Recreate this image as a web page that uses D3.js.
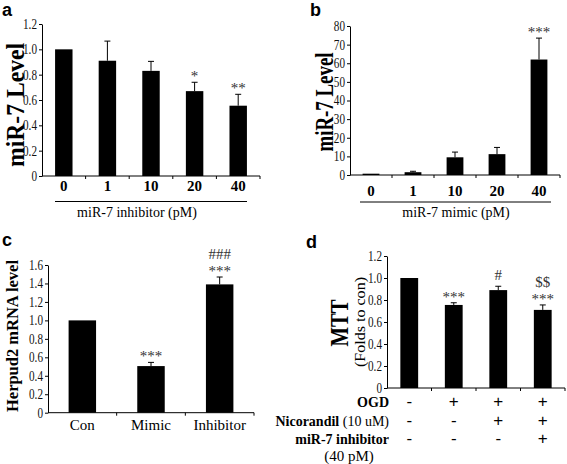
<!DOCTYPE html>
<html><head><meta charset="utf-8">
<script src="https://cdn.jsdelivr.net/npm/d3@7"></script>
<style>
body{margin:0;background:#fff;}
svg{display:block;}
</style></head>
<body>
<svg id="chart" width="567" height="464" font-family="Liberation Serif, Times New Roman, serif"></svg>
<script>
// ---- Panel a: miR-7 inhibitor ----
const aCategories = ["0", "1", "10", "20", "40"];
const aValues = [1.0, 0.91, 0.83, 0.67, 0.555];
const aErrors = [0, 0.155, 0.075, 0.07, 0.09];
const aSig = [[], [], [], ["*"], ["**"]];
const aYTicks = [0, 0.2, 0.4, 0.6, 0.8, 1.0, 1.2];

// ---- Panel b: miR-7 mimic ----
const bCategories = ["0", "1", "10", "20", "40"];
const bValues = [0.7, 1.5, 9.5, 11.2, 62];
const bErrors = [0, 0.5, 2.8, 3.6, 11.5];
const bSig = [[], [], [], [], ["***"]];
const bYTicks = [0, 10, 20, 30, 40, 50, 60, 70, 80];

// ---- Panel c: Herpud2 mRNA ----
const cCategories = ["Con", "Mimic", "Inhibitor"];
const cValues = [1.0, 0.505, 1.39];
const cErrors = [0, 0.04, 0.08];
const cSig = [[], ["***"], ["***", "###"]];
const cYTicks = [0, 0.2, 0.4, 0.6, 0.8, 1.0, 1.2, 1.4, 1.6];

// ---- Panel d: MTT ----
const dCategories = ["g1", "g2", "g3", "g4"];
const dValues = [1.0, 0.755, 0.89, 0.71];
const dErrors = [0, 0.02, 0.035, 0.045];
const dSig = [[], ["***"], ["#"], ["***", "$$"]];
const dYTicks = [0, 0.2, 0.4, 0.6, 0.8, 1.0, 1.2];
const dRowOGD = ["-", "+", "+", "+"];
const dRowNicorandil = ["-", "-", "+", "+"];
const dRowInhibitor = ["-", "-", "-", "+"];

const SERIF = '"Liberation Serif","Times New Roman",serif';
const SANS = '"Liberation Sans",Arial,sans-serif';
const svg = d3.select("#chart");

function fmtDec(v){ return v === 0 ? "0" : v.toFixed(1); }
function fmtInt(v){ return String(v); }

function txt(parent, x, y, s, size, opts = {}){
  const t = parent.append("text").attr("x", x).attr("y", y)
    .attr("font-size", size)
    .attr("text-anchor", opts.anchor || "start")
    .attr("font-weight", opts.bold ? "bold" : "normal")
    .attr("fill", opts.fill || "#000")
    .style("font-family", opts.family || SERIF)
    .text(s);
  return t;
}
function vtxt(cx, cy, s, size, len, bold){
  return svg.append("text").attr("transform", `translate(${cx},${cy}) rotate(-90)`)
    .attr("text-anchor", "middle").attr("font-size", size)
    .attr("font-weight", bold ? "bold" : "normal")
    .attr("textLength", len).attr("lengthAdjust", "spacingAndGlyphs")
    .style("font-family", SERIF).text(s);
}

function panel(cfg){
  const g = svg.append("g");
  const x = d3.scaleBand().domain(cfg.cats).range([cfg.x0, cfg.x1])
    .paddingInner(0.6).paddingOuter(0.3);
  const y = d3.scaleLinear().domain([0, cfg.ymax]).range([cfg.y0, cfg.y1]);
  const step = x.step();

  // y axis
  const sx = 0.8;
  const ya = d3.axisLeft(y).tickValues(cfg.ticks).tickFormat(cfg.fmt)
    .tickSize(3).tickSizeOuter(0).tickPadding(2);
  const yg = g.append("g").attr("transform", `translate(${cfg.x0},0)`).call(ya);
  yg.selectAll("text").attr("font-size", cfg.tickFont || 14)
    .style("font-family", SERIF).attr("fill", "#111")
    .attr("x", -5 / sx).attr("transform", `scale(${sx},1)`);
  yg.selectAll("line,path").attr("stroke", "#000");

  // bars
  g.selectAll(".bar").data(cfg.vals).enter().append("rect")
    .attr("x", (d, i) => x(cfg.cats[i]))
    .attr("width", x.bandwidth())
    .attr("y", d => y(d))
    .attr("height", d => cfg.y0 - y(d))
    .attr("fill", "#000");

  // error bars
  cfg.vals.forEach((v, i) => {
    const e = cfg.errs[i];
    if (!e) return;
    const cx = x(cfg.cats[i]) + x.bandwidth() / 2;
    g.append("line").attr("x1", cx).attr("x2", cx).attr("y1", y(v)).attr("y2", y(v + e))
      .attr("stroke", "#000").attr("stroke-width", 1);
    g.append("line").attr("x1", cx - 3).attr("x2", cx + 3).attr("y1", y(v + e)).attr("y2", y(v + e))
      .attr("stroke", "#000").attr("stroke-width", 1);
  });

  // significance
  cfg.sig.forEach((lines, i) => {
    const cx = x(cfg.cats[i]) + x.bandwidth() / 2;
    const top = y(cfg.vals[i] + cfg.errs[i]);
    lines.forEach((s, k) => {
      const isStar = s[0] === "*";
      txt(g, cx, top - 3 - k * 12 - (isStar ? -2 : 3), s, 15, {anchor: "middle", fill: "#333"});
    });
  });

  // x axis line with boundary ticks
  g.append("line").attr("x1", cfg.x0).attr("x2", cfg.x1).attr("y1", cfg.y0).attr("y2", cfg.y0)
    .attr("stroke", "#000");
  d3.range(1, cfg.cats.length + 1).forEach(k => {
    const tx = cfg.x0 + k * step;
    g.append("line").attr("x1", tx).attr("x2", tx).attr("y1", cfg.y0).attr("y2", cfg.y0 + 3)
      .attr("stroke", "#000");
  });

  // category labels
  if (cfg.catLabels) {
    cfg.cats.forEach(d => {
      txt(g, x(d) + x.bandwidth() / 2, cfg.catY, d, cfg.catFont, {anchor: "middle", bold: cfg.catBold});
    });
  }
  return {x, y, g};
}

// Panel a
const pa = panel({cats: aCategories, vals: aValues, errs: aErrors, sig: aSig, ticks: aYTicks,
  fmt: fmtDec, ymax: 1.2, x0: 42, x1: 260, y0: 176, y1: 24, catLabels: true, catY: 191, catFont: 15, catBold: true});
svg.append("line").attr("x1", 55).attr("x2", 247).attr("y1", 201.5).attr("y2", 201.5).attr("stroke", "#000");
txt(svg, 137, 217, "miR-7 inhibitor (pM)", 14, {anchor: "middle"});
vtxt(24, 105, "miR-7 Level", 26, 124, true);
txt(svg, 2, 16, "a", 18, {bold: true, family: SANS});

// Panel b
const pb = panel({cats: bCategories, vals: bValues, errs: bErrors, sig: bSig, ticks: bYTicks,
  fmt: fmtInt, ymax: 80, x0: 350, x1: 560, y0: 175, y1: 26, catLabels: true, catY: 196, catFont: 15, catBold: true});
svg.append("line").attr("x1", 360).attr("x2", 551).attr("y1", 202).attr("y2", 202).attr("stroke", "#000");
txt(svg, 456, 217, "miR-7 mimic (pM)", 14, {anchor: "middle"});
vtxt(333, 102, "miR-7 Level", 26, 99, true);
txt(svg, 310, 16, "b", 18, {bold: true, family: SANS});

// Panel c
const pc = panel({cats: cCategories, vals: cValues, errs: cErrors, sig: cSig, ticks: cYTicks,
  fmt: fmtDec, ymax: 1.6, x0: 48, x1: 254, y0: 412.7, y1: 265, catLabels: true, catY: 430, catFont: 15, catBold: false});
vtxt(18, 336, "Herpud2 mRNA level", 16, 152, true);
txt(svg, 2, 246, "c", 18, {bold: true, family: SANS});

// Panel d
const pd = panel({cats: dCategories, vals: dValues, errs: dErrors, sig: dSig, ticks: dYTicks,
  fmt: fmtDec, ymax: 1.2, x0: 387, x1: 565, y0: 388, y1: 256, catLabels: false});
vtxt(348, 323, "MTT", 26, 47, true);
vtxt(365, 322, "(Folds to con)", 14, 90, false);
txt(svg, 306, 248, "d", 18, {bold: true, family: SANS});

const rows = [
  {y: 407, signs: dRowOGD},
  {y: 426, signs: dRowNicorandil},
  {y: 444, signs: dRowInhibitor}
];
txt(svg, 389, 407, "OGD", 14, {anchor: "end", bold: true});
const rl2 = txt(svg, 389, 426, "", 14, {anchor: "end"});
rl2.append("tspan").attr("font-weight", "bold").text("Nicorandil");
rl2.append("tspan").text(" (10 uM)");
txt(svg, 389, 444, "miR-7 inhibitor", 14, {anchor: "end", bold: true});
txt(svg, 349, 461, "(40 pM)", 15, {anchor: "middle"});

rows.forEach(r => {
  r.signs.forEach((s, i) => {
    txt(svg, pd.x(dCategories[i]) + pd.x.bandwidth() / 2, r.y, s, 17, {anchor: "middle", family: SANS});
  });
});
</script>
</body></html>
